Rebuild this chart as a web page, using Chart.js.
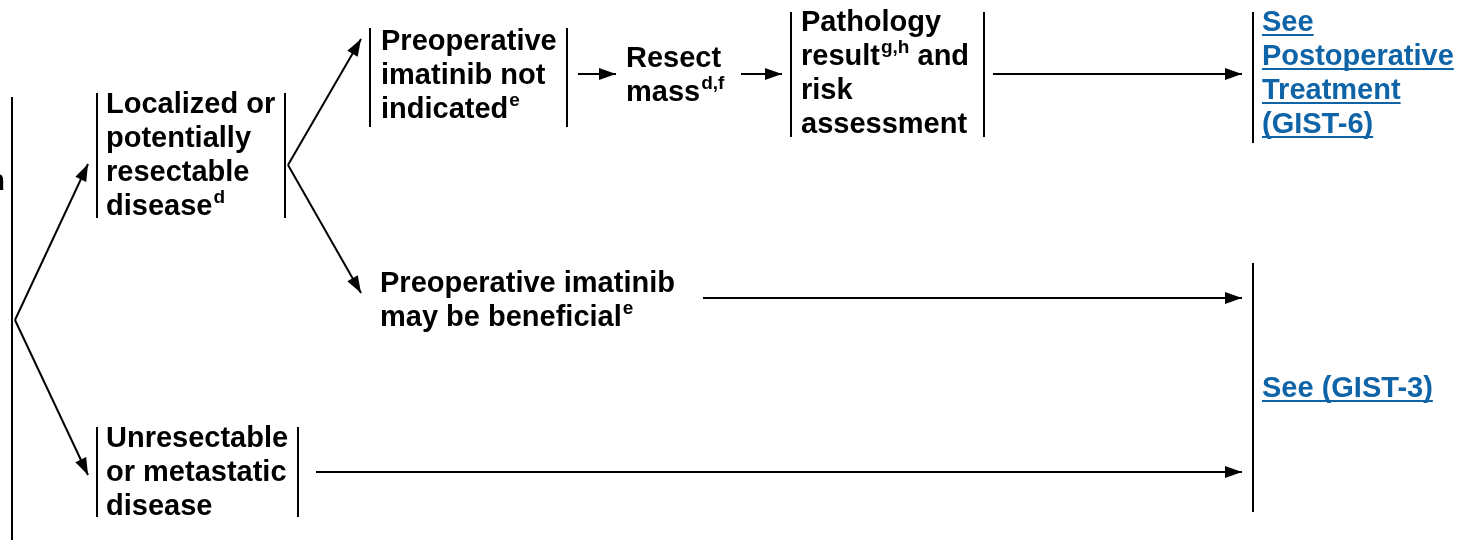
<!DOCTYPE html>
<html lang="en">
<head>
<meta charset="UTF-8">
<title>GIST workup flow</title>
<script src="https://cdn.jsdelivr.net/npm/chart.js"></script>
<style>
  html, body { margin: 0; padding: 0; background: #ffffff; }
  .chart-container { position: relative; width: 1458px; height: 540px; }
</style>
</head>
<body>
<div class="chart-container"><canvas id="flowChart"></canvas></div>
<script>
// Text blocks, one entry per line; {x} marks a superscript
const blockLines = [
  ['n'],
  ['Localized or', 'potentially', 'resectable', 'disease{d}'],
  ['Preoperative', 'imatinib not', 'indicated{e}'],
  ['Resect', 'mass{d,f}'],
  ['Pathology', 'result{g,h} and', 'risk', 'assessment'],
  ['See', 'Postoperative', 'Treatment', '(GIST-6)'],
  ['Preoperative imatinib', 'may be beneficial{e}'],
  ['Unresectable', 'or metastatic', 'disease'],
  ['See (GIST-3)']
];
const blockX = [5, 106, 381, 626, 801, 1262, 380, 106, 1262];
const blockY = [190, 113, 50, 67, 31, 31, 292, 447, 397];   // first baseline
const blockLink = [false, false, false, false, false, true, false, false, true];

// vertical bracket bars
const barX = [12, 97, 285, 370, 567, 791, 984, 1253, 97, 298, 1253];
const barTop = [97, 93, 93, 28, 28, 12, 12, 12, 427, 427, 263];
const barBottom = [540, 218, 218, 127, 127, 137, 137, 143, 517, 517, 512];

// arrows
const arrowFromX = [15, 15, 288, 288, 578, 741, 993, 703, 316];
const arrowFromY = [320, 320, 165, 165, 74, 74, 74, 298, 472];
const arrowToX = [88, 88, 361, 361, 616, 782, 1242, 1242, 1242];
const arrowToY = [164, 475, 39, 293, 74, 74, 74, 298, 472];

const LINE_STEP = 34;
const FONT = '"Liberation Sans", Arial, sans-serif';
const LINK_COLOR = '#0f64a8';

const datasets = [];
barX.forEach((x, i) => {
  datasets.push({
    data: [{ x: x, y: barTop[i] }, { x: x, y: barBottom[i] }],
    borderColor: '#000', borderWidth: 2, pointRadius: 0, showLine: true, fill: false
  });
});
arrowFromX.forEach((x, i) => {
  datasets.push({
    data: [{ x: x, y: arrowFromY[i] }, { x: arrowToX[i], y: arrowToY[i] }],
    borderColor: '#000', borderWidth: 2, pointRadius: 0, showLine: true, fill: false,
    isArrow: true
  });
});

// arrowheads at the end of each arrow dataset
const arrowHeads = {
  id: 'arrowHeads',
  afterDatasetsDraw(chart) {
    const c = chart.ctx;
    chart.data.datasets.forEach((ds, i) => {
      if (!ds.isArrow) return;
      const pts = chart.getDatasetMeta(i).data;
      const a = pts[0], b = pts[1];
      const ang = Math.atan2(b.y - a.y, b.x - a.x);
      const len = 17, half = 6;
      c.save();
      c.translate(b.x, b.y);
      c.rotate(ang);
      c.beginPath();
      c.moveTo(0, 0);
      c.lineTo(-len, -half);
      c.lineTo(-len, half);
      c.closePath();
      c.fillStyle = '#000';
      c.fill();
      c.restore();
    });
  }
};

// text labels, placed through the scales
const textBlocks = {
  id: 'textBlocks',
  afterDraw(chart) {
    const c = chart.ctx;
    const sx = chart.scales.x, sy = chart.scales.y;
    c.save();
    c.textBaseline = 'alphabetic';
    blockLines.forEach((lines, i) => {
      const color = blockLink[i] ? LINK_COLOR : '#000';
      c.fillStyle = color;
      c.strokeStyle = color;
      lines.forEach((line, k) => {
        let px = sx.getPixelForValue(blockX[i]);
        const py = sy.getPixelForValue(blockY[i] + k * LINE_STEP);
        const parts = line.split(/(\{[^}]*\})/).filter(s => s.length);
        if (i === 0) {
          c.font = 'bold 29px ' + FONT;
          px -= c.measureText(line).width;
        }
        const startX = px;
        parts.forEach(p => {
          if (p[0] === '{') {
            const t = p.slice(1, -1);
            c.font = 'bold 19px ' + FONT;
            c.fillText(t, px + 1, py - 12);
            px += c.measureText(t).width + 1;
          } else {
            c.font = 'bold 29px ' + FONT;
            c.fillText(p, px, py);
            px += c.measureText(p).width;
          }
        });
        if (blockLink[i]) {
          c.lineWidth = 2;
          c.beginPath();
          c.moveTo(startX, py + 4);
          c.lineTo(px, py + 4);
          c.stroke();
        }
      });
    });
    c.restore();
  }
};

new Chart(document.getElementById('flowChart').getContext('2d'), {
  type: 'scatter',
  data: { datasets: datasets },
  options: {
    responsive: true,
    maintainAspectRatio: false,
    animation: false,
    layout: { padding: 0 },
    scales: {
      x: { type: 'linear', min: 0, max: 1458, display: false },
      y: { type: 'linear', min: 0, max: 540, reverse: true, display: false }
    },
    plugins: { legend: { display: false }, tooltip: { enabled: false } },
    events: []
  },
  plugins: [arrowHeads, textBlocks]
});
</script>
</body>
</html>
